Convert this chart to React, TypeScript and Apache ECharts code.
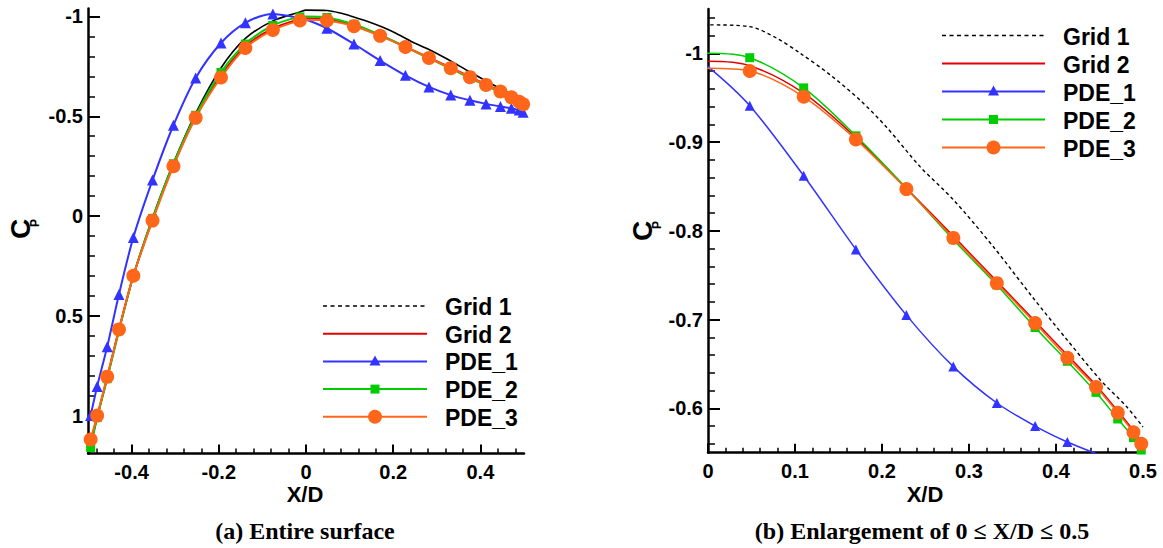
import React, { useEffect, useRef } from "react";
import * as echarts from "echarts";

// ---------------- data ----------------
const pdeX = [-0.494, -0.479, -0.456, -0.429, -0.396, -0.352, -0.304, -0.253, -0.195, -0.139, -0.076, -0.014, 0.048, 0.11, 0.17, 0.228, 0.282, 0.332, 0.376, 0.413, 0.446, 0.471, 0.489, 0.498];
const pde1Y = [1.0, 0.854, 0.655, 0.393, 0.107, -0.18, -0.455, -0.692, -0.867, -0.968, -1.013, -0.992, -0.941, -0.862, -0.779, -0.705, -0.647, -0.606, -0.58, -0.562, -0.549, -0.54, -0.531, -0.52];
const pde2Y = [1.16, 1.01, 0.815, 0.575, 0.3, 0.012, -0.262, -0.505, -0.72, -0.862, -0.955, -0.998, -0.995, -0.961, -0.907, -0.848, -0.79, -0.739, -0.691, -0.653, -0.618, -0.588, -0.567, -0.553];
const pde3Y = [1.12, 1.0, 0.805, 0.568, 0.299, 0.023, -0.25, -0.492, -0.694, -0.842, -0.932, -0.98, -0.98, -0.951, -0.903, -0.847, -0.792, -0.741, -0.696, -0.657, -0.624, -0.595, -0.573, -0.56];
// values of the PDE lines where they cross X/D = 0 (line only, no marker)
const pdeAtZero = [-0.985, -1.0, -0.983];

const grid2X = [-0.494, -0.479, -0.456, -0.429, -0.396, -0.352, -0.304, -0.253, -0.195, -0.139, -0.076, -0.014, 0, 0.048, 0.11, 0.17, 0.228, 0.282, 0.332, 0.376, 0.413, 0.446, 0.471, 0.489, 0.498];
const grid2Y = [1.14, 1.005, 0.81, 0.57, 0.3, 0.018, -0.255, -0.498, -0.705, -0.85, -0.94, -0.987, -0.991, -0.986, -0.955, -0.905, -0.848, -0.794, -0.743, -0.698, -0.66, -0.626, -0.597, -0.575, -0.562];

const grid1X = [-0.494, -0.479, -0.456, -0.429, -0.396, -0.352, -0.304, -0.253, -0.195, -0.139, -0.076, -0.014, 0, 0.048, 0.079, 0.106, 0.14, 0.175, 0.205, 0.244, 0.282, 0.328, 0.374, 0.412, 0.451, 0.481, 0.5];
const grid1Y = [1.15, 1.01, 0.81, 0.57, 0.3, 0.01, -0.265, -0.515, -0.742, -0.89, -0.978, -1.022, -1.032, -1.03, -1.017, -1.0, -0.976, -0.947, -0.917, -0.872, -0.835, -0.782, -0.724, -0.678, -0.632, -0.602, -0.579];

const seriesNames = ["Grid 1", "Grid 2", "PDE_1", "PDE_2", "PDE_3"];

// tick labels
const xMajorLeft = [-0.4, -0.2, 0, 0.2, 0.4];
const yMajorLeft = [-1, -0.5, 0, 0.5, 1];
const xMajorRight = [0, 0.1, 0.2, 0.3, 0.4, 0.5];
const yMajorRight = [-1, -0.9, -0.8, -0.7, -0.6];

const captions = ["(a) Entire surface", "(b) Enlargement of 0 \u2264 X/D \u2264 0.5"];

// ---------------- styling ----------------
const FONT = "'Liberation Sans', Arial, Helvetica, sans-serif";
const SERIF = "'Liberation Serif', 'Times New Roman', Times, serif";
const C_BLACK = "#000000";
const C_RED = "#e00000";
const C_BLUE = "#3333ff";
const C_GREEN = "#00cc00";
const C_ORANGE = "#ff661a";

function minorTicks(min: number, max: number, step: number, major: number[]) {
  const out: number[] = [];
  const n = Math.round((max - min) / step);
  for (let i = 0; i <= n; i++) {
    const v = Math.round((min + i * step) * 1000) / 1000;
    if (!major.some((m) => Math.abs(m - v) < 1e-6)) out.push(v);
  }
  return out;
}

function fmt(v: number) {
  return String(Math.round(v * 100) / 100);
}

function axisPair(kind: "x" | "y", gridIndex: number, min: number, max: number, major: number[], minor: number[], inverse: boolean) {
  const majorLen = kind === "x" ? 9 : 12;
  const minorLen = kind === "x" ? 5 : 7;
  const position = kind === "x" ? "bottom" : "left";
  return [
    {
      type: "value",
      gridIndex,
      min,
      max,
      inverse,
      position,
      axisLine: { show: true, onZero: false, lineStyle: { color: "#000", width: 2.5 } },
      axisTick: { show: true, inside: true, length: majorLen, customValues: major, lineStyle: { color: "#000", width: 2 } },
      axisLabel: {
        show: true,
        customValues: major,
        margin: kind === "x" ? 8 : 5,
        color: "#000",
        fontSize: 20,
        fontWeight: "bold",
        fontFamily: FONT,
        formatter: (v: number) => fmt(v),
      },
      splitLine: { show: false },
    },
    {
      type: "value",
      gridIndex,
      min,
      max,
      inverse,
      position,
      axisLine: { show: false, onZero: false },
      axisTick: { show: true, inside: true, length: minorLen, customValues: minor, lineStyle: { color: "#000", width: 1.5 } },
      axisLabel: { show: false },
      splitLine: { show: false },
    },
  ];
}

function pdeData(ys: number[], zeroVal: number) {
  const out: any[] = [];
  pdeX.forEach((x, i) => {
    out.push({ value: [x, ys[i]] });
    if (x < 0 && pdeX[i + 1] > 0) out.push({ value: [0, zeroVal], symbol: "none" });
  });
  return out;
}

function pairs(xs: number[], ys: number[]) {
  return xs.map((x, i) => [x, ys[i]]);
}

function buildSeries(g: number, left: boolean) {
  const lw = left ? 2 : 1.5;
  const axisIdx = g * 2;
  const base = {
    type: "line",
    xAxisIndex: axisIdx,
    yAxisIndex: axisIdx,
    smooth: 0.3,
    clip: true,
    silent: true,
  };
  return [
    {
      ...base,
      name: seriesNames[0],
      data: pairs(grid1X, grid1Y),
      symbol: "none",
      lineStyle: { color: C_BLACK, width: left ? 1.6 : 1.4, type: left ? "solid" : [3.5, 3] },
    },
    {
      ...base,
      name: seriesNames[1],
      data: pairs(grid2X, grid2Y),
      symbol: "none",
      lineStyle: { color: C_RED, width: lw },
    },
    {
      ...base,
      name: seriesNames[2],
      data: pdeData(pde1Y, pdeAtZero[0]),
      symbol: "triangle",
      symbolSize: left ? 11 : 10,
      itemStyle: { color: C_BLUE },
      lineStyle: { color: C_BLUE, width: lw },
    },
    {
      ...base,
      name: seriesNames[3],
      data: pdeData(pde2Y, pdeAtZero[1]),
      symbol: "rect",
      symbolSize: 9,
      itemStyle: { color: C_GREEN },
      lineStyle: { color: C_GREEN, width: lw },
    },
    {
      ...base,
      name: seriesNames[4],
      data: pdeData(pde3Y, pdeAtZero[2]),
      symbol: "circle",
      symbolSize: 14,
      itemStyle: { color: C_ORANGE },
      lineStyle: { color: C_ORANGE, width: lw },
    },
  ];
}

function legendGraphic(x1: number, x2: number, tx: number, y0: number, dy: number) {
  const els: any[] = [];
  const cols = [C_BLACK, C_RED, C_BLUE, C_GREEN, C_ORANGE];
  const mid = (x1 + x2) / 2;
  seriesNames.forEach((name, i) => {
    const y = y0 + dy * i;
    els.push({
      type: "line",
      shape: { x1, y1: y, x2, y2: y },
      style: { stroke: cols[i], lineWidth: i === 0 ? 1.6 : 2, lineDash: i === 0 ? [4, 3.5] : null },
      silent: true,
    });
    if (i === 2) {
      els.push({ type: "polygon", shape: { points: [[mid, y - 6], [mid - 5.5, y + 4], [mid + 5.5, y + 4]] }, style: { fill: cols[i] }, silent: true });
    } else if (i === 3) {
      els.push({ type: "rect", shape: { x: mid - 4.5, y: y - 4.5, width: 9, height: 9 }, style: { fill: cols[i] }, silent: true });
    } else if (i === 4) {
      els.push({ type: "circle", shape: { cx: mid, cy: y, r: 7 }, style: { fill: cols[i] }, silent: true });
    }
    els.push({
      type: "text",
      x: tx,
      y: y + 1,
      style: { text: name, font: `bold 23px ${FONT}`, fill: "#000", align: "left", verticalAlign: "middle", textAlign: "left", textVerticalAlign: "middle" },
      silent: true,
    });
  });
  return els;
}

function cpLabel(cx: number, cy: number) {
  return [
    {
      type: "text",
      x: cx,
      y: cy,
      rotation: Math.PI / 2,
      style: { text: "C", font: `bold 28px ${FONT}`, fill: "#000", align: "center", verticalAlign: "middle", textAlign: "center", textVerticalAlign: "middle" },
      silent: true,
    },
    {
      type: "text",
      x: cx + 15,
      y: cy - 6,
      rotation: Math.PI / 2,
      style: { text: "P", font: `bold 12px ${FONT}`, fill: "#000", align: "center", verticalAlign: "middle", textAlign: "center", textVerticalAlign: "middle" },
      silent: true,
    },
  ];
}

function centerText(text: string, x: number, y: number, font: string) {
  return {
    type: "text",
    x,
    y,
    style: { text, font, fill: "#000", align: "center", verticalAlign: "middle", textAlign: "center", textVerticalAlign: "middle" },
    silent: true,
  };
}

export default function App() {
  const ref = useRef<HTMLDivElement>(null);
  useEffect(() => {
    if (!ref.current) return;
    const chart = echarts.init(ref.current, undefined, { renderer: "svg" });

    const L = { left: 88, top: 8.5, width: 436, height: 445 };
    const R = { left: 708, top: 8.9, width: 435, height: 443.8 };

    const xLeft = axisPair("x", 0, -0.5, 0.5, xMajorLeft, minorTicks(-0.48, 0.48, 0.04, xMajorLeft), false);
    const yLeft = axisPair("y", 0, -1.04, 1.19, yMajorLeft, minorTicks(-1.0, 1.1, 0.1, yMajorLeft), true);
    const xRight = axisPair("x", 1, 0, 0.5, xMajorRight, minorTicks(0.02, 0.48, 0.02, xMajorRight), false);
    const yRight = axisPair("y", 1, -1.05, -0.55, yMajorRight, minorTicks(-1.04, -0.56, 0.02, yMajorRight), true);

    const option: any = {
      animation: false,
      backgroundColor: "#ffffff",
      grid: [
        { ...L, containLabel: false },
        { ...R, containLabel: false },
      ],
      xAxis: [...xLeft, ...xRight],
      yAxis: [...yLeft, ...yRight],
      series: [...buildSeries(0, true), ...buildSeries(1, false)],
      graphic: [
        ...legendGraphic(323, 427, 445, 306, 27.7),
        ...legendGraphic(942, 1045, 1063, 35.5, 28),
        ...cpLabel(20, 229),
        ...cpLabel(642, 231),
        centerText("X/D", 305, 494, `bold 22px ${FONT}`),
        centerText("X/D", 925, 494, `bold 22px ${FONT}`),
        centerText(captions[0], 305, 531, `bold 24px ${SERIF}`),
        centerText(captions[1], 922, 531, `bold 24px ${SERIF}`),
      ],
    };
    chart.setOption(option);
    return () => chart.dispose();
  }, []);
  return (
    <div
      ref={ref}
      style={{ position: "fixed", left: 0, top: 0, width: 1163, height: 548, background: "#fff" }}
    />
  );
}
